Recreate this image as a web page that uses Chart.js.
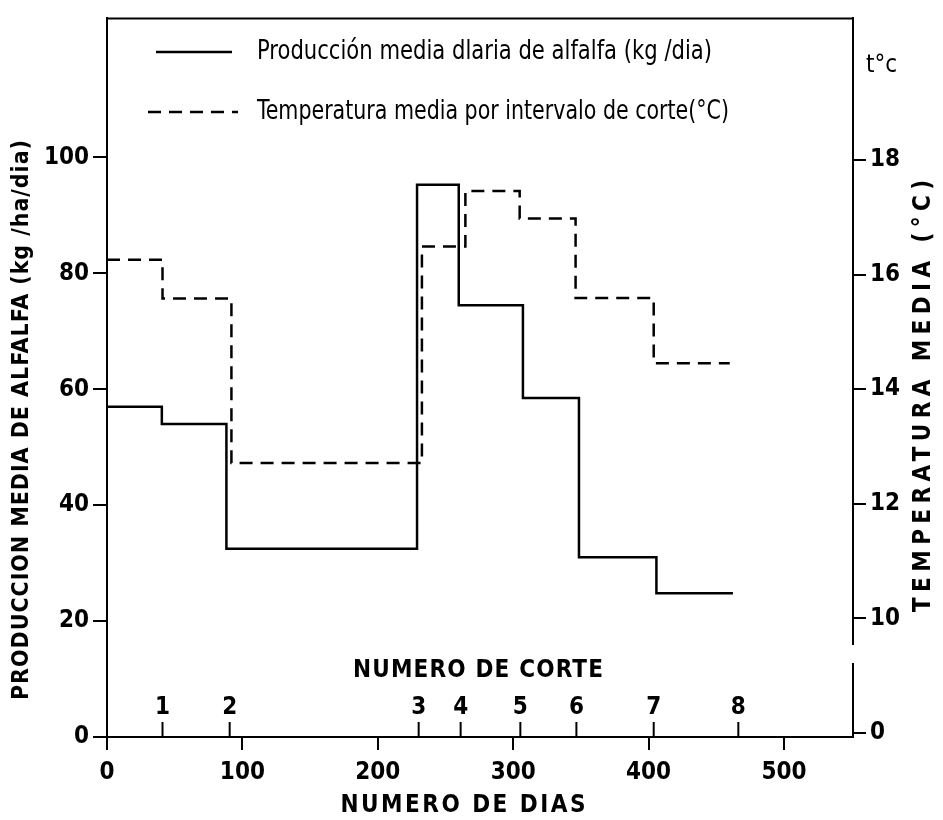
<!DOCTYPE html>
<html>
<head>
<meta charset="utf-8">
<script src="https://cdn.jsdelivr.net/npm/chart.js@4.4.1/dist/chart.umd.min.js"></script>
<style>
    body { margin: 0; background: #fff; }
    #wrap { width: 943px; height: 820px; }
</style>
</head>
<body>
<div id="wrap"><canvas id="alfalfaChart" width="943" height="820"></canvas></div>
<script>
// valores
var diasProduccion = [0, 40.5, 88.2, 229, 259.8, 307.2, 348.6, 405.8, 462.3];
var produccion = [57, 54, 32.5, 95.3, 74.5, 58.5, 31, 24.8, 24.8];

var diasTemperatura = [0, 41, 91.9, 232.6, 264.7, 304.8, 346.1, 403.8, 460];
var temperatura = [16.26, 15.58, 12.71, 16.49, 17.46, 16.98, 15.59, 14.45, 14.45];

var corteDias = [41, 90.6, 230.2, 261.2, 305.3, 346.7, 403.8, 466.3];
var corteLabels = ['1', '2', '3', '4', '5', '6', '7', '8'];

var diasTicks = [0, 100, 200, 300, 400, 500];
var produccionTicks = [0, 20, 40, 60, 80, 100];
var temperaturaTicks = [8, 10, 12, 14, 16, 18];
var temperaturaTickLabels = ['0', '10', '12', '14', '16', '18'];

var legendLabels = ['Producción media dlaria de alfalfa (kg /dia)', 'Temperatura media por intervalo de corte(°C)'];

const FONT = '"DejaVu Sans Condensed", "DejaVu Sans", sans-serif';

function toPoints(xs, ys) {
    return xs.map(function (x, i) { return { x: x, y: ys[i] }; });
}

// dibuja texto ajustado a un ancho dado (comprime en horizontal si hace falta)
function fitText(ctx, text, x, y, width, align) {
    const w = ctx.measureText(text).width;
    const sx = w > width ? width / w : 1;
    ctx.save();
    ctx.translate(x, y);
    ctx.scale(sx, 1);
    ctx.textAlign = align || 'left';
    ctx.fillText(text, 0, 0);
    ctx.restore();
}

// texto con espaciado entre letras para ocupar un ancho
function spacedText(ctx, text, cx, cy, width) {
    ctx.save();
    ctx.letterSpacing = '0px';
    const w = ctx.measureText(text).width;
    const sp = Math.max(0, (width - w) / (text.length - 1));
    ctx.letterSpacing = sp + 'px';
    ctx.textAlign = 'left';
    ctx.fillText(text, cx - width / 2, cy);
    ctx.restore();
}

const extrasPlugin = {
    id: 'extras',
    afterDraw: function (chart) {
        const ctx = chart.ctx;
        const area = chart.chartArea;
        const xs = chart.scales.x;
        ctx.save();
        ctx.fillStyle = '#000';
        ctx.strokeStyle = '#000';
        ctx.textBaseline = 'middle';

        // borde superior
        ctx.lineWidth = 2;
        ctx.beginPath();
        ctx.moveTo(area.left - 1, area.top);
        ctx.lineTo(area.right + 1, area.top);
        ctx.stroke();

        // corte del eje derecho
        ctx.fillStyle = '#fff';
        ctx.fillRect(area.right - 3, 645, 6, 18);
        ctx.fillStyle = '#000';

        // leyenda
        const ds = chart.data.datasets;
        const legendY = [52, 112];
        for (let i = 0; i < ds.length; i++) {
            ctx.beginPath();
            ctx.lineWidth = ds[i].borderWidth;
            ctx.setLineDash(ds[i].borderDash || []);
            ctx.moveTo(i === 0 ? 156 : 148, legendY[i]);
            ctx.lineTo(i === 0 ? 232 : 238, legendY[i]);
            ctx.stroke();
            ctx.setLineDash([]);
            ctx.font = '26px ' + FONT;
            fitText(ctx, legendLabels[i], 257, legendY[i], i === 0 ? 455 : 472);
        }

        ctx.font = '24px ' + FONT;
        ctx.textAlign = 'left';
        ctx.fillText('t°c', 866, 66);

        // numero de corte
        ctx.lineWidth = 2;
        ctx.font = 'bold 24px ' + FONT;
        ctx.textAlign = 'center';
        corteDias.forEach(function (d, i) {
            const px = xs.getPixelForValue(d);
            ctx.beginPath();
            ctx.moveTo(px, area.bottom);
            ctx.lineTo(px, area.bottom - 15);
            ctx.stroke();
            ctx.fillText(corteLabels[i], px, 708);
        });
        ctx.font = 'bold 24px ' + FONT;
        spacedText(ctx, 'NUMERO DE CORTE', 478, 671, 250);
        spacedText(ctx, 'NUMERO DE DIAS', 463, 806, 245);

        // titulos de los ejes
        ctx.save();
        ctx.translate(22, 420);
        ctx.rotate(-Math.PI / 2);
        ctx.font = 'bold 23px ' + FONT;
        spacedText(ctx, 'PRODUCCION MEDIA DE ALFALFA (kg /ha/dia)', 0, 0, 560);
        ctx.restore();

        ctx.save();
        ctx.translate(924, 396);
        ctx.rotate(-Math.PI / 2);
        ctx.font = 'bold 24px ' + FONT;
        spacedText(ctx, 'TEMPERATURA MEDIA (°C)', 0, 0, 432);
        ctx.restore();

        ctx.restore();
    }
};

const axisGrid = {
    drawOnChartArea: false,
    color: '#000',
    lineWidth: 2,
    tickLength: 14
};

const tickFont = { family: FONT, size: 24, weight: 'bold' };

const alfalfaChart = new Chart(document.getElementById('alfalfaChart').getContext('2d'), {
    type: 'line',
    data: {
        datasets: [{
            label: legendLabels[0],
            data: toPoints(diasProduccion, produccion),
            yAxisID: 'y',
            borderColor: '#000',
            borderWidth: 2.5,
            stepped: 'before',
            pointRadius: 0,
            fill: false
        }, {
            label: legendLabels[1],
            data: toPoints(diasTemperatura, temperatura),
            yAxisID: 'y2',
            borderColor: '#000',
            borderWidth: 2.5,
            borderDash: [13, 8],
            stepped: 'before',
            pointRadius: 0,
            fill: false
        }]
    },
    options: {
        responsive: false,
        animation: false,
        layout: { padding: { top: 15, left: 0, right: 0, bottom: 0 } },
        plugins: {
            legend: { display: false },
            tooltip: { enabled: false }
        },
        scales: {
            x: {
                type: 'linear',
                min: 0,
                max: 551,
                afterBuildTicks: function (s) { s.ticks = diasTicks.map(function (v) { return { value: v }; }); },
                afterFit: function (s) { s.height = 83; },
                border: { color: '#000', width: 2 },
                grid: Object.assign({}, axisGrid, { tickLength: 13 }),
                ticks: { color: '#000', padding: 8, maxRotation: 0, font: tickFont }
            },
            y: {
                type: 'linear',
                position: 'left',
                min: 0,
                max: 124,
                afterBuildTicks: function (s) { s.ticks = produccionTicks.map(function (v) { return { value: v }; }); },
                afterFit: function (s) { s.width = 107; },
                border: { color: '#000', width: 2 },
                grid: axisGrid,
                ticks: { color: '#000', padding: 4, font: tickFont }
            },
            y2: {
                type: 'linear',
                position: 'right',
                min: 7.93,
                max: 20.47,
                afterBuildTicks: function (s) { s.ticks = temperaturaTicks.map(function (v) { return { value: v }; }); },
                afterFit: function (s) { s.width = 90; },
                border: { color: '#000', width: 2 },
                grid: Object.assign({}, axisGrid, { tickLength: 13 }),
                ticks: {
                    color: '#000',
                    padding: 4,
                    font: tickFont,
                    callback: function (v) {
                        const i = temperaturaTicks.indexOf(v);
                        return i >= 0 ? temperaturaTickLabels[i] : '';
                    }
                }
            }
        }
    },
    plugins: [extrasPlugin]
});
console.log('chart area', alfalfaChart.chartArea);
</script>
</body>
</html>
